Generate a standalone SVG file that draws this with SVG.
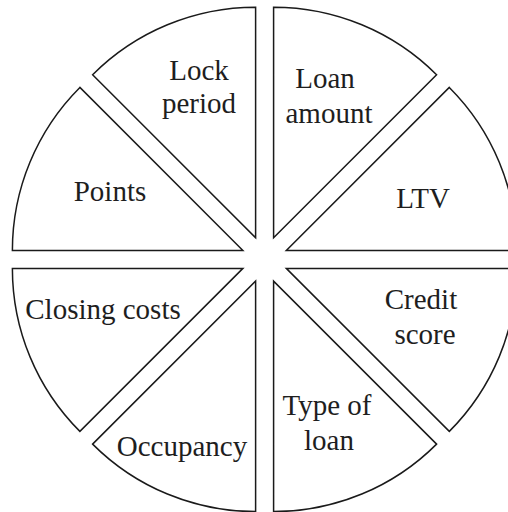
<svg xmlns="http://www.w3.org/2000/svg" width="508" height="512" viewBox="0 0 508 512">
  <style>
    .slice { fill: #ffffff; stroke: #1a1a1a; stroke-width: 1.5; stroke-linejoin: miter; }
    .label { font-family: "Liberation Serif", "Times New Roman", serif; font-size: 29px; fill: #1e1e1e; text-anchor: middle; }
  </style>
  <rect width="508" height="512" fill="#ffffff"/>
  <!-- Exploded pie: eight 45-degree slices, each pushed 23.5px out along its bisector -->
  <g id="slice-loan-amount">
    <path class="slice" d="M273.59,237.69 L436.58,74.70 A230.5,230.5 0 0 0 273.59,7.19 Z"/>
    <text class="label" x="325" y="88">Loan</text>
    <text class="label" x="329" y="123">amount</text>
  </g>
  <g id="slice-lock-period">
    <path class="slice" d="M255.61,237.69 L255.61,7.19 A230.5,230.5 0 0 0 92.62,74.70 Z"/>
    <text class="label" x="199" y="80">Lock</text>
    <text class="label" x="199" y="113">period</text>
  </g>
  <g id="slice-points">
    <path class="slice" d="M242.89,250.41 L79.90,87.42 A230.5,230.5 0 0 0 12.39,250.41 Z"/>
    <text class="label" x="110" y="201">Points</text>
  </g>
  <g id="slice-closing-costs">
    <path class="slice" d="M242.89,268.39 L12.39,268.39 A230.5,230.5 0 0 0 79.90,431.38 Z"/>
    <text class="label" x="103" y="319">Closing costs</text>
  </g>
  <g id="slice-occupancy">
    <path class="slice" d="M255.61,281.11 L92.62,444.10 A230.5,230.5 0 0 0 255.61,511.61 Z"/>
    <text class="label" x="182" y="456">Occupancy</text>
  </g>
  <g id="slice-type-of-loan">
    <path class="slice" d="M273.59,281.11 L273.59,511.61 A230.5,230.5 0 0 0 436.58,444.10 Z"/>
    <text class="label" x="327" y="415">Type of</text>
    <text class="label" x="329" y="450">loan</text>
  </g>
  <g id="slice-credit-score">
    <path class="slice" d="M286.31,268.39 L449.30,431.38 A230.5,230.5 0 0 0 516.81,268.39 Z"/>
    <text class="label" x="421" y="309">Credit</text>
    <text class="label" x="425" y="344">score</text>
  </g>
  <g id="slice-ltv">
    <path class="slice" d="M286.31,250.41 L516.81,250.41 A230.5,230.5 0 0 0 449.30,87.42 Z"/>
    <text class="label" x="423" y="208">LTV</text>
  </g>
  <g id="connectors"/>
</svg>
